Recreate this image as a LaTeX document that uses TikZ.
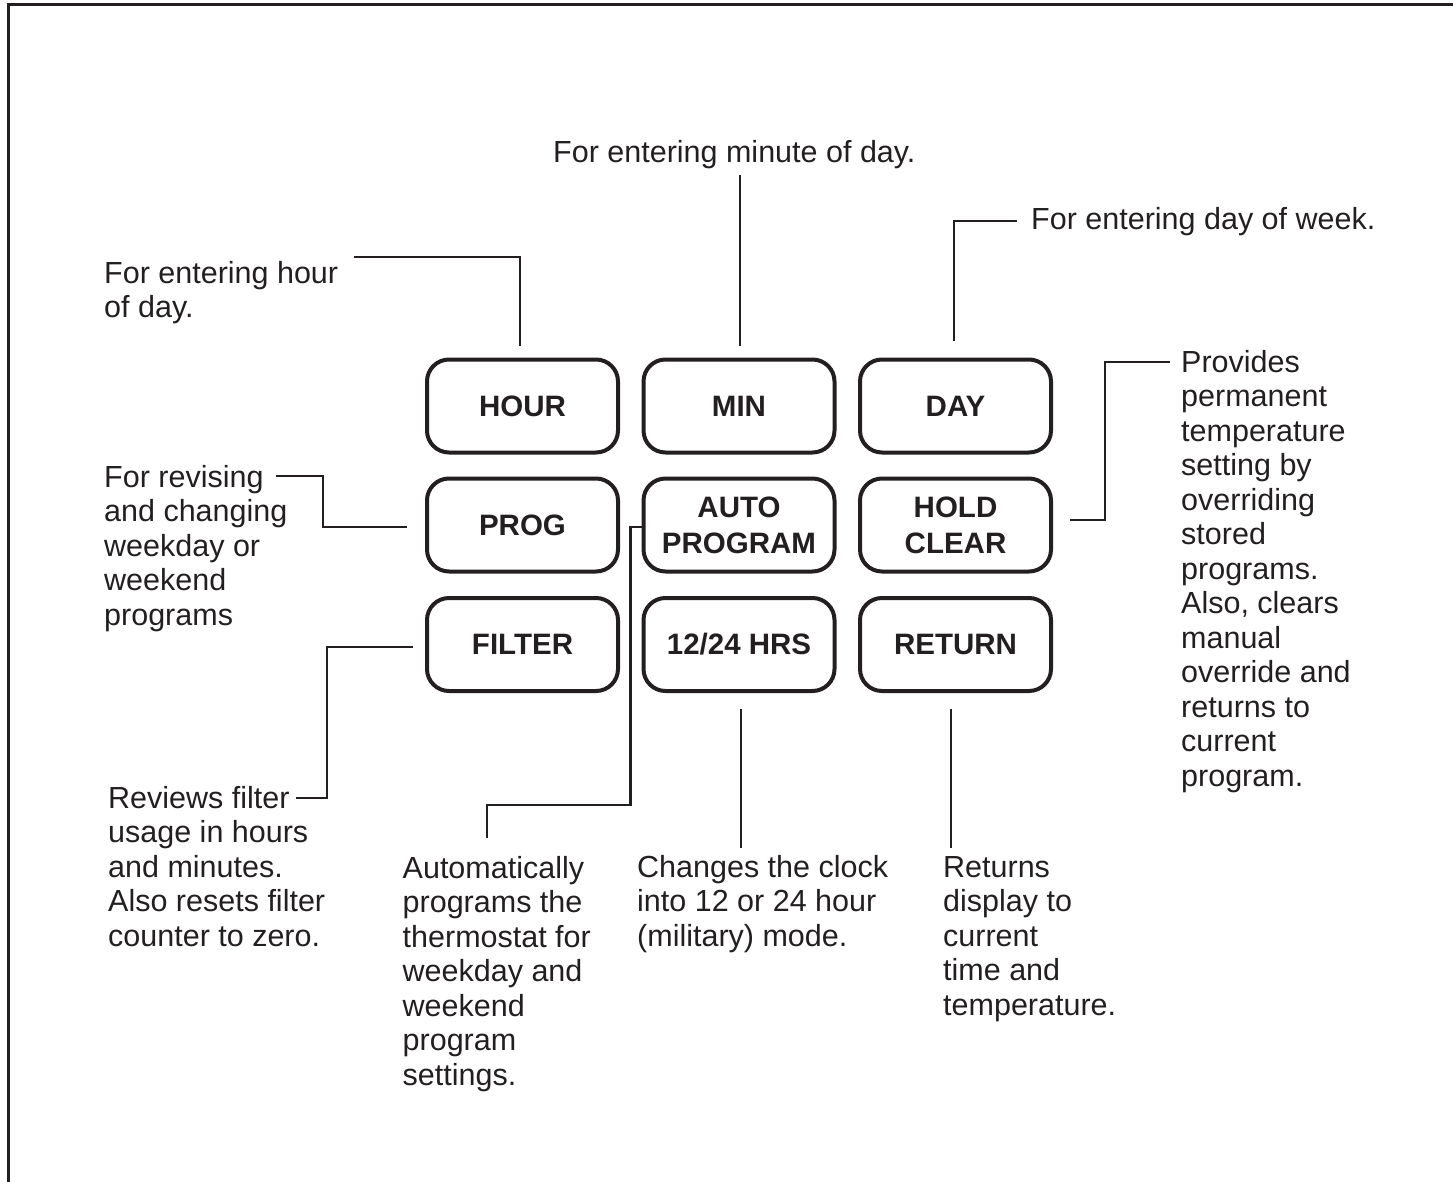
\documentclass[tikz,border=0pt]{standalone}
\usepackage{fontspec}
\setmainfont{Liberation Sans}
\usetikzlibrary{calc}
\definecolor{ink}{HTML}{231F20}
\begin{document}
\begin{tikzpicture}[x=1pt,y=-1pt,
  btn/.style={draw=ink, line width=4pt, rounded corners=22pt, minimum width=191pt,
    minimum height=93pt, inner sep=0pt, align=center, text=ink,
    font=\bfseries\fontsize{29.5}{36}\selectfont},
  lbl/.style={anchor=base west, inner sep=0pt, align=left, text=ink,
    font=\fontsize{30.5}{34.5}\selectfont},
  conn/.style={draw=ink, line width=2.2pt}]
\useasboundingbox (0,0) rectangle (1453,1182);
% frame
\draw[ink, line width=3pt] (8.7,1200) -- (8.7,4.7) -- (1470,4.7);
% buttons
\node[btn] (hour) at (522.5,406) {HOUR};
\node[btn] (min) at (739,406) {MIN};
\node[btn] (day) at (955.5,406) {DAY};
\node[btn] (prog) at (522.5,525) {PROG};
\node[btn] (auto) at (739,525) {AUTO\\PROGRAM};
\node[btn] (hold) at (955.5,525) {HOLD\\CLEAR};
\node[btn] (filter) at (522.5,644.5) {FILTER};
\node[btn] (hrs) at (739,644.5) {12/24 HRS};
\node[btn] (ret) at (955.5,644.5) {RETURN};
% labels (anchor = baseline of the last line)
\node[lbl] (hourtxt) at (104,317.5) {For entering hour\\of day.};
\node[lbl] (mintxt) at (553,163) {For entering minute of day.};
\node[lbl] (daytxt) at (1031,230) {For entering day of week.};
\node[lbl] (progtxt) at (104,625) {For revising\\and changing\\weekday or\\weekend\\programs};
\node[lbl] (holdtxt) at (1181,786) {Provides\\permanent\\temperature\\setting by\\overriding\\stored\\programs.\\Also, clears\\manual\\override and\\returns to\\current\\program.};
\node[lbl] (filtertxt) at (108,946) {Reviews filter\\usage in hours\\and minutes.\\Also resets filter\\counter to zero.};
\node[lbl] (autotxt) at (402.5,1085) {Automatically\\programs the\\thermostat for\\weekday and\\weekend\\program\\settings.};
\node[lbl] (hrstxt) at (637,946) {Changes the clock\\into 12 or 24 hour\\(military) mode.};
\node[lbl] (rettxt) at (943,1015) {Returns\\display to\\current\\time and\\temperature.};
% connector free ends
\coordinate (hourA) at (354,257);
\coordinate (minA) at (740,175);
\coordinate (dayA) at (1017,221);
\coordinate (holdA) at (1170,362);
\coordinate (progA) at (276,476);
\coordinate (filterA) at (296,798);
\coordinate (autoA) at (487,838);
\coordinate (hrsA) at (741,848);
\coordinate (retA) at (951,848);
% connectors
\draw[conn, shorten >=12pt] (hourA) -| (hour.north -| 520,0);
\draw[conn, shorten <=12pt] (min.north -| minA) -- (minA);
\draw[conn, shorten >=17pt] (dayA) -| (day.north -| 954,0);
\draw[conn, shorten <=17pt] (hold.east |- 0,520) -- ++(52,0) |- (holdA);
\draw[conn, shorten >=18pt] (progA) -- ++(47,0) |- (prog.west |- 0,527);
\draw[conn, shorten <=12pt] (filter.west |- 0,647) -- ++(-98,0) |- (filterA);
\draw[conn] (auto.west |- 0,527) -- ++(-11,0) -- ++(0,278) -| (autoA);
\draw[conn, shorten <=16pt] (hrs.south -| hrsA) -- (hrsA);
\draw[conn, shorten <=16pt] (ret.south -| retA) -- (retA);
\end{tikzpicture}
\end{document}
